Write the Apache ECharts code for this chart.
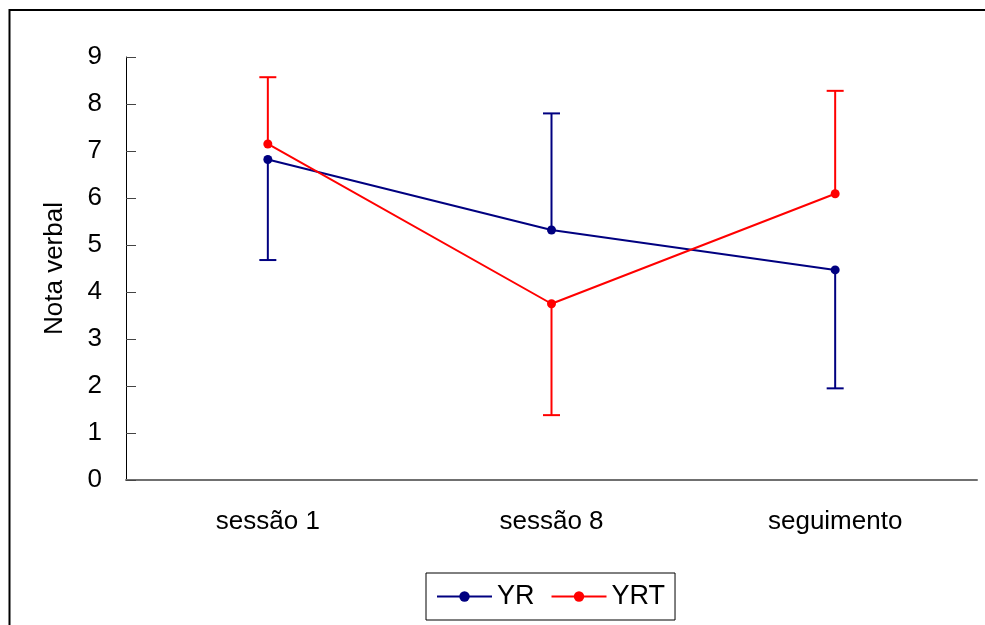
<!DOCTYPE html>
<html>
<head>
<meta charset="utf-8">
<title>Nota verbal</title>
<script src="https://cdn.jsdelivr.net/npm/echarts@6/dist/echarts.min.js"></script>
<style>
	html, body { margin: 0; padding: 0; background: #fff; }
	#main { width: 985px; height: 625px; }
</style>
</head>
<body>
<div id="main"></div>
<script>
	// dados
	var categories = ['sessão 1', 'sessão 8', 'seguimento'];
	var yrValues = [6.82, 5.32, 4.47];
	var yrtValues = [7.15, 3.75, 6.09];
	// extremidade da barra de erro (só um lado é desenhado)
	var yrErrorEnds = [4.68, 7.80, 1.95];
	var yrtErrorEnds = [8.57, 1.38, 8.28];

	var FONT = '"Liberation Sans", Arial, sans-serif';

	/**
	 * monta os dados da barra de erro: [indice, valor, extremidade]
	 */
	function errorData(values, ends) {
		var list = [];
		for (var i = 0; i < values.length; i++) {
			list.push([i, values[i], ends[i]]);
		}
		return list;
	}

	// desenha a barra vertical com o traço na ponta
	function renderErrorBar(color) {
		return function(params, api) {
			var p0 = api.coord([api.value(0), api.value(1)]);
			var p1 = api.coord([api.value(0), api.value(2)]);
			var capHalf = 8.5;
			var style = { stroke: color, lineWidth: 2 };
			return {
				type: 'group',
				children: [{
					type: 'line',
					shape: { x1: p0[0], y1: p0[1], x2: p1[0], y2: p1[1] },
					style: style
				}, {
					type: 'line',
					shape: { x1: p1[0] - capHalf, y1: p1[1], x2: p1[0] + capHalf, y2: p1[1] },
					style: style
				}]
			};
		};
	}

	var chart = echarts.init(document.getElementById('main'));
	var option = {
		animation: false,
		backgroundColor: '#fff',
		graphic: [{
			// moldura externa (só topo e esquerda aparecem)
			type: 'rect',
			shape: { x: 9.5, y: 10, width: 1200, height: 1000 },
			style: { fill: 'none', stroke: '#000', lineWidth: 2 },
			silent: true
		}],
		grid: {
			left: 126,
			right: 8,
			top: 57,
			bottom: 145
		},
		legend: {
			data: ['YR', 'YRT'],
			left: 426,
			top: 573,
			padding: [10, 10, 10, 10],
			borderColor: '#000',
			borderWidth: 1,
			itemWidth: 55,
			itemHeight: 13,
			itemGap: 16,
			textStyle: {
				color: '#000',
				fontFamily: FONT,
				fontSize: 27
			}
		},
		xAxis: {
			type: 'category',
			data: categories,
			boundaryGap: true,
			axisLine: { lineStyle: { color: '#707070', width: 2 } },
			axisTick: { show: false },
			axisLabel: {
				color: '#000',
				fontFamily: FONT,
				fontSize: 26,
				margin: 29
			}
		},
		yAxis: {
			type: 'value',
			min: 0,
			max: 9,
			interval: 1,
			name: 'Nota verbal',
			nameLocation: 'middle',
			nameGap: 58,
			nameTextStyle: {
				color: '#000',
				fontFamily: FONT,
				fontSize: 26
			},
			axisLine: { show: true, lineStyle: { color: '#000', width: 1 } },
			axisTick: { show: true, inside: true, length: 10, lineStyle: { color: '#444' } },
			splitLine: { show: false },
			axisLabel: {
				color: '#000',
				fontFamily: FONT,
				fontSize: 26,
				margin: 24
			}
		},
		series: [{
			name: 'YR erro',
			type: 'custom',
			renderItem: renderErrorBar('#000080'),
			data: errorData(yrValues, yrErrorEnds),
			encode: { x: 0, y: [1, 2] },
			z: 1
		}, {
			name: 'YRT erro',
			type: 'custom',
			renderItem: renderErrorBar('#ff0000'),
			data: errorData(yrtValues, yrtErrorEnds),
			encode: { x: 0, y: [1, 2] },
			z: 1
		}, {
			name: 'YR',
			type: 'line',
			data: yrValues,
			symbol: 'circle',
			symbolSize: 9,
			itemStyle: { color: '#000080' },
			lineStyle: { color: '#000080', width: 2 },
			z: 3
		}, {
			name: 'YRT',
			type: 'line',
			data: yrtValues,
			symbol: 'circle',
			symbolSize: 9,
			itemStyle: { color: '#ff0000' },
			lineStyle: { color: '#ff0000', width: 2 },
			z: 3
		}]
	};
	chart.setOption(option);
</script>
</body>
</html>
